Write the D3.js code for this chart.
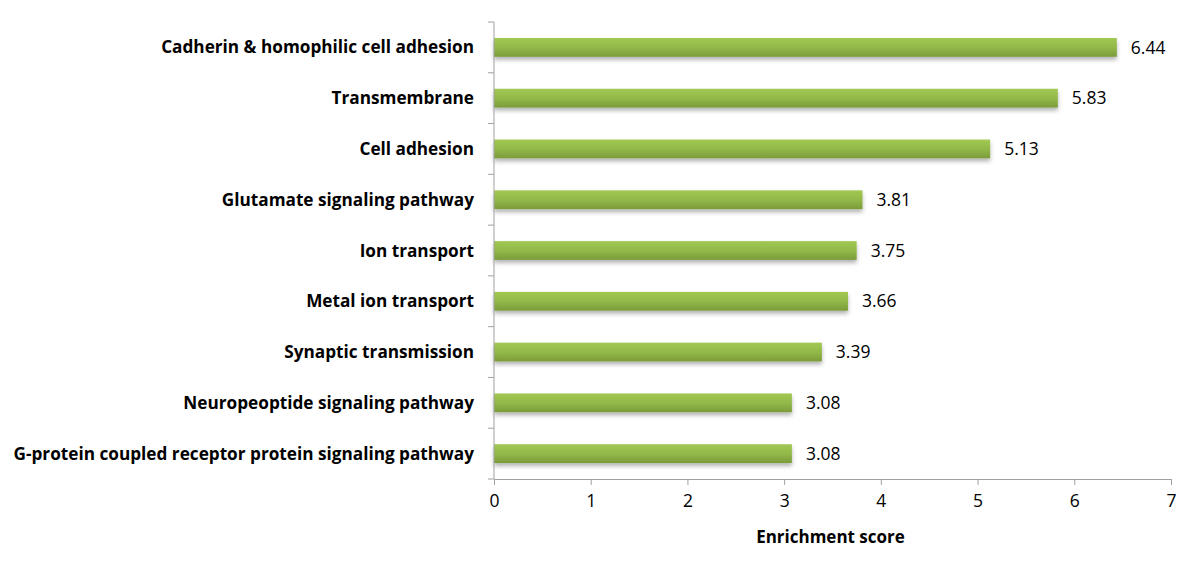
<!DOCTYPE html>
<html><head><meta charset="utf-8">
<script src="https://cdn.jsdelivr.net/npm/d3@7"></script>
<style>body{margin:0;background:#fff}svg{display:block}</style>
</head><body>
<svg id="c" width="1200" height="575"></svg>
<script>
const categories = [
  "Cadherin & homophilic cell adhesion",
  "Transmembrane",
  "Cell adhesion",
  "Glutamate signaling pathway",
  "Ion transport",
  "Metal ion transport",
  "Synaptic transmission",
  "Neuropeoptide signaling pathway",
  "G-protein coupled receptor protein signaling pathway"
];
const values = [6.44, 5.83, 5.13, 3.81, 3.75, 3.66, 3.39, 3.08, 3.08];
const xTicks = [0,1,2,3,4,5,6,7];
const axisTitle = "Enrichment score";

const FONT = "'Open Sans', sans-serif";
const svg = d3.select("#c");
const mL = 494, mR = 1171, mT = 22, mB = 479;
const x = d3.scaleLinear().domain([0,7]).range([mL,mR]);
const y = d3.scaleBand().domain(categories).range([mT,mB]).paddingInner(0.63).paddingOuter(0.315);
const yb = d3.scaleBand().domain(categories).range([mT,mB]);

const defs = svg.append("defs");
const g = defs.append("linearGradient").attr("id","bg").attr("x1",0).attr("y1",0).attr("x2",0).attr("y2",1);
g.append("stop").attr("offset","0%").attr("stop-color","#a2c853");
g.append("stop").attr("offset","50%").attr("stop-color","#92b949");
g.append("stop").attr("offset","100%").attr("stop-color","#7b9b3a");
const f = defs.append("filter").attr("id","sh").attr("x","-5%").attr("y","-50%").attr("width","110%").attr("height","250%");
f.append("feDropShadow").attr("dx",0).attr("dy",3).attr("stdDeviation",2).attr("flood-color","#000").attr("flood-opacity",0.3);

svg.selectAll("rect.bar").data(values).enter().append("rect").attr("class","bar")
  .attr("x", x(0)).attr("y",(d,i)=>y(categories[i])).attr("width",d=>x(d)-x(0)).attr("height",y.bandwidth())
  .attr("fill","url(#bg)").attr("filter","url(#sh)");

svg.selectAll("text.val").data(values).enter().append("text").attr("class","val")
  .attr("x",d=>x(d)+14).attr("y",(d,i)=>y(categories[i])+y.bandwidth()/2).attr("dy","0.35em")
  .attr("font-family",FONT).attr("font-size",17.5).attr("fill","#000")
  .text(d=>d.toFixed(2));

// y axis
const yg = svg.append("g").attr("transform",`translate(${mL},0)`);
const bounds = categories.map(c=>yb(c)).concat([mB]);
yg.selectAll("line.b").data(bounds).enter().append("line").attr("class","b")
  .attr("x1",-6).attr("x2",0).attr("y1",d=>d).attr("y2",d=>d).attr("stroke","#a0a0a0");
yg.append("line").attr("x1",0).attr("x2",0).attr("y1",mT).attr("y2",mB).attr("stroke","#a0a0a0");
svg.selectAll("text.cat").data(categories).enter().append("text").attr("class","cat")
  .attr("x",mL-20).attr("y",d=>yb(d)+yb.bandwidth()/2).attr("dy","0.35em").attr("text-anchor","end")
  .attr("font-family",FONT).attr("font-weight","bold").attr("font-size",17.2).attr("fill","#000")
  .text(d=>d);

// x axis
const xa = d3.axisBottom(x).tickValues(xTicks).tickSize(6).tickSizeOuter(0).tickPadding(10).tickFormat(d3.format("d"));
const xg = svg.append("g").attr("transform",`translate(0,${mB})`).call(xa);
xg.select(".domain").attr("stroke","#a0a0a0");
xg.selectAll(".tick line").attr("stroke","#a0a0a0");
xg.selectAll(".tick text").attr("font-family",FONT).attr("font-size",17.5).attr("fill","#000");

svg.append("text").attr("x",(mL+mR)/2 - 2).attr("y",543).attr("text-anchor","middle")
  .attr("font-family",FONT).attr("font-weight","bold").attr("font-size",17).text(axisTitle);
</script>
</body></html>
